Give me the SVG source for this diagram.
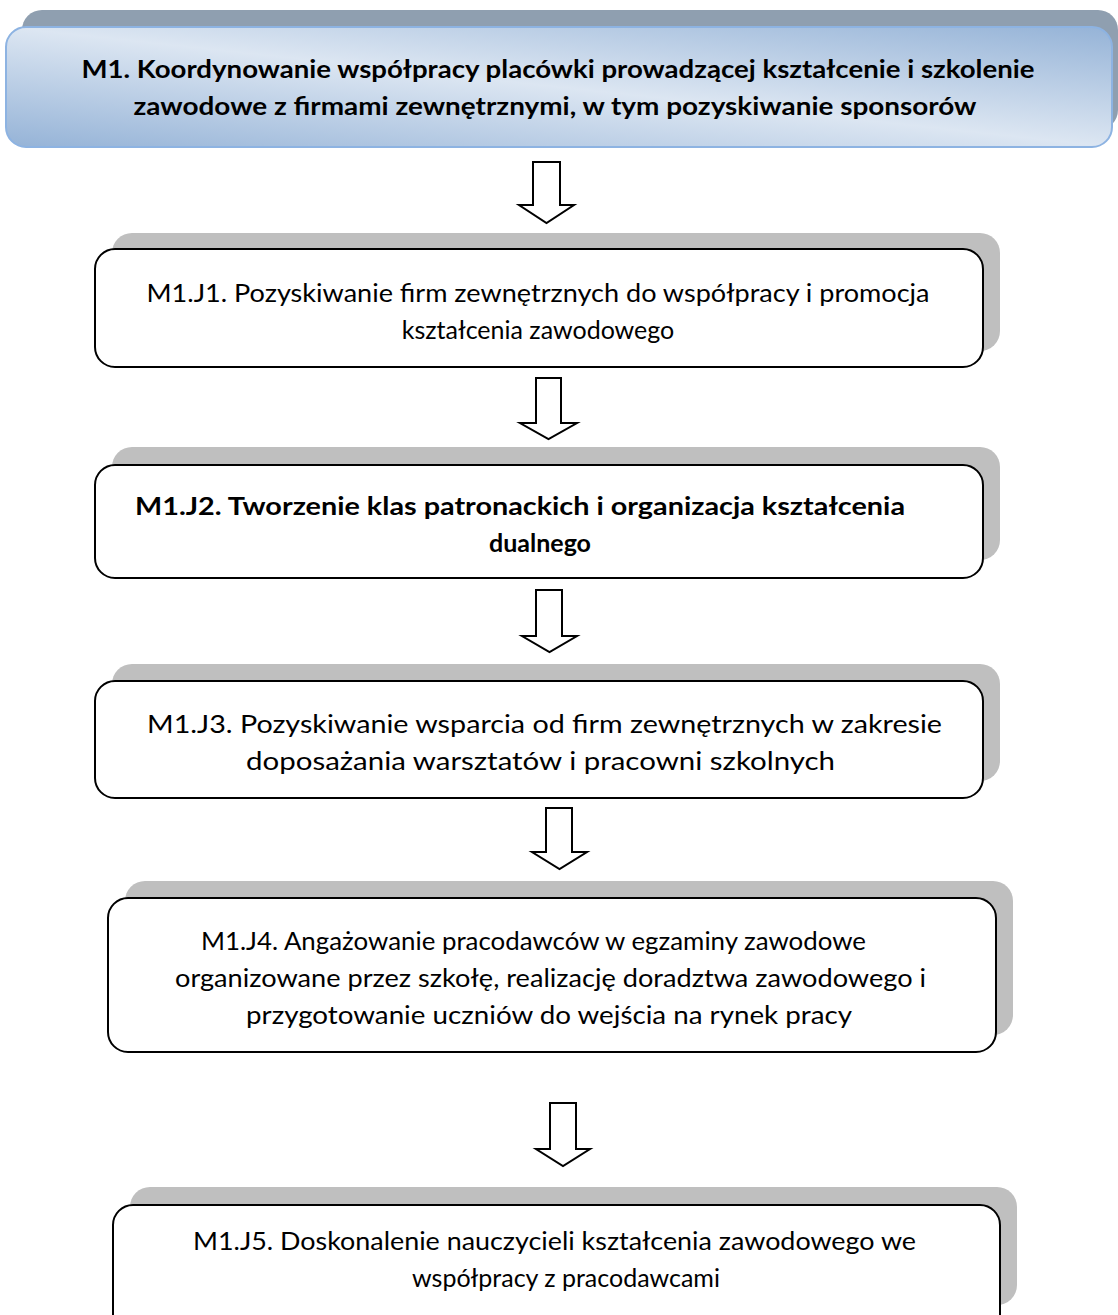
<svg xmlns="http://www.w3.org/2000/svg" width="1118" height="1315" viewBox="0 0 1118 1315">
<defs>
<linearGradient id="topfill" x1="0" y1="1" x2="1" y2="0">
<stop offset="0" stop-color="#95b3d7"/>
<stop offset="0.5" stop-color="#dce6f2"/>
<stop offset="1" stop-color="#95b3d7"/>
</linearGradient>
<style>
.sh{fill:#bfbfbf;stroke:none}
.box{fill:#ffffff;stroke:#000000;stroke-width:2}
.t{font-family:"Lato","Liberation Sans",sans-serif;font-size:25px;fill:#000000;text-anchor:middle}
.b{font-weight:bold}
.arr{fill:#ffffff;stroke:#000000;stroke-width:2;stroke-linejoin:miter}
</style>
</defs>
<rect width="1118" height="1315" fill="#ffffff"/>
<g id="M1">
<rect x="22" y="10" width="1096" height="120" rx="20" fill="#8f9fb0"/>
<rect x="6" y="27" width="1106" height="120" rx="20" fill="url(#topfill)" stroke="#8db3e2" stroke-width="2"/>
<text class="t b" x="558" y="78" textLength="953" lengthAdjust="spacingAndGlyphs">M1. Koordynowanie współpracy placówki prowadzącej kształcenie i szkolenie</text>
<text class="t b" x="555" y="115" textLength="843" lengthAdjust="spacingAndGlyphs">zawodowe z firmami zewnętrznymi, w tym pozyskiwanie sponsorów</text>
</g>
<g id="J1">
<rect class="sh" x="112" y="233" width="888" height="118" rx="20"/>
<rect class="box" x="95" y="249" width="888" height="118" rx="20"/>
<text class="t" x="538" y="302" textLength="783" lengthAdjust="spacingAndGlyphs">M1.J1. Pozyskiwanie firm zewnętrznych do współpracy i promocja</text>
<text class="t" x="538" y="339">kształcenia zawodowego</text>
</g>
<g id="J2">
<rect class="sh" x="112" y="447" width="888" height="113" rx="20"/>
<rect class="box" x="95" y="465" width="888" height="113" rx="20"/>
<text class="t b" x="520" y="515" textLength="770" lengthAdjust="spacingAndGlyphs">M1.J2. Tworzenie klas patronackich i organizacja kształcenia</text>
<text class="t b" x="540" y="552">dualnego</text>
</g>
<g id="J3">
<rect class="sh" x="112" y="664" width="888" height="117" rx="20"/>
<rect class="box" x="95" y="681" width="888" height="117" rx="20"/>
<text class="t" x="544.5" y="733" textLength="795" lengthAdjust="spacingAndGlyphs">M1.J3. Pozyskiwanie wsparcia od firm zewnętrznych w zakresie</text>
<text class="t" x="540.5" y="770" textLength="589" lengthAdjust="spacingAndGlyphs">doposażania warsztatów i pracowni szkolnych</text>
</g>
<g id="J4">
<rect class="sh" x="125" y="881" width="888" height="154" rx="20"/>
<rect class="box" x="108" y="898" width="888" height="154" rx="20"/>
<text class="t" x="533.5" y="950" textLength="665" lengthAdjust="spacingAndGlyphs">M1.J4. Angażowanie pracodawców w egzaminy zawodowe</text>
<text class="t" x="550.5" y="987" textLength="751" lengthAdjust="spacingAndGlyphs">organizowane przez szkołę, realizację doradztwa zawodowego i</text>
<text class="t" x="549" y="1024" textLength="606" lengthAdjust="spacingAndGlyphs">przygotowanie uczniów do wejścia na rynek pracy</text>
</g>
<g id="J5">
<rect class="sh" x="130" y="1187" width="887" height="118" rx="20"/>
<rect class="box" x="113" y="1205" width="887" height="130" rx="20"/>
<text class="t" x="554.5" y="1250" textLength="723" lengthAdjust="spacingAndGlyphs">M1.J5. Doskonalenie nauczycieli kształcenia zawodowego we</text>
<text class="t" x="566" y="1287">współpracy z pracodawcami</text>
</g>
<g id="connectors">
<polygon class="arr" points="533,162 560,162 560,205 574,205 546.5,223 519,205 533,205"/>
<polygon class="arr" points="536,378 561,378 561,423 577,423 548.5,439 520,423 536,423"/>
<polygon class="arr" points="536,590 562,590 562,636 577,636 549.5,652 522,636 536,636"/>
<polygon class="arr" points="546,808 572,808 572,852 587,852 559.5,869 532,852 546,852"/>
<polygon class="arr" points="550,1103 576,1103 576,1149 590,1149 563,1166 536,1149 550,1149"/>
</g>
</svg>
